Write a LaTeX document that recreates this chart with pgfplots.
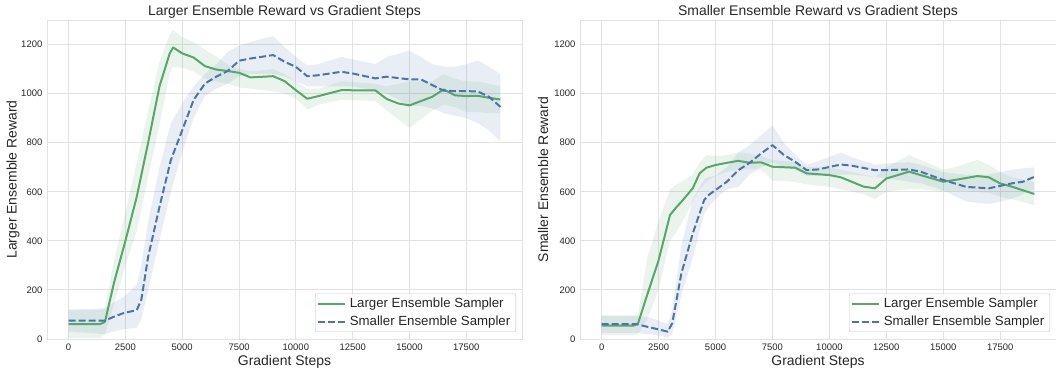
\documentclass[border=0pt]{standalone}
\usepackage{fontspec}
\setmainfont{Liberation Sans}
\usepackage{pgfplots}
\pgfplotsset{compat=1.18}
\usepackage{pgfplotstable}
\usepgfplotslibrary{fillbetween}
\definecolor{sgreen}{RGB}{85,168,104}
\definecolor{sblue}{RGB}{76,114,176}
\definecolor{txt}{RGB}{38,38,38}
\definecolor{gridc}{RGB}{226,226,226}

% Left panel, Larger Ensemble Sampler
\pgfplotstableread{
x y lo hi
0 61 5 118
1400 61 5 118
1600 70 20 125
2000 230 140 320
2500 400 300 520
3000 580 440 720
3500 800 660 930
4000 1030 870 1130
4450 1164 1080 1240
4600 1188 1110 1260
5000 1164 1105 1230
5500 1147 1090 1210
6000 1112 1060 1180
6500 1098 1050 1150
7000 1092 1040 1120
7500 1085 1025 1100
8000 1066 1020 1090
9000 1071 1010 1100
9500 1051 1000 1080
10000 1014 980 1050
10500 979 935 1020
11000 990 955 1020
12000 1014 975 1050
13500 1013 970 1040
14000 978 930 1030
14500 960 895 1040
15000 952 860 1050
16000 987 930 1050
16500 1017 955 1080
17000 993 945 1060
17500 990 925 1050
18000 991 925 1050
18500 983 920 1040
19000 976 920 1030
}\LG
% Left panel, Smaller Ensemble Sampler
\pgfplotstableread{
x y lo hi
0 75 30 120
1600 75 20 125
2000 91 30 150
2400 105 40 170
3000 118 45 220
3200 160 80 300
3500 335 200 480
4000 539 400 700
4500 729 600 880
5000 851 760 960
5500 974 900 1030
6000 1041 990 1080
6500 1069 1020 1120
7000 1092 1040 1170
7500 1134 1070 1195
8000 1143 1080 1210
9000 1157 1080 1235
9500 1130 1070 1190
10000 1109 1050 1150
10500 1071 1030 1115
11000 1075 1030 1120
12000 1089 1030 1150
12500 1082 1030 1140
13500 1062 1010 1120
14000 1069 1000 1150
15000 1058 950 1175
15500 1058 950 1150
16000 1035 940 1120
16500 1012 920 1110
17000 1010 910 1110
17500 1010 900 1120
18000 1009 880 1135
18500 987 850 1110
19000 946 805 1080
}\LB
% Right panel, Larger Ensemble Sampler
\pgfplotstableread{
x y lo hi
0 54 15 95
1400 54 15 95
1600 64 20 100
2000 180 80 330
2500 320 200 480
3000 505 400 610
3300 539 440 630
3500 559 470 640
4000 614 560 670
4300 675 610 720
4600 698 640 750
5000 709 665 745
5500 718 680 750
6000 726 690 760
6500 718 690 755
7000 720 690 745
7500 702 645 730
8500 698 640 720
9000 675 630 700
10000 668 620 700
10500 659 610 690
11500 621 590 670
12000 614 570 660
12500 654 600 700
13500 682 610 750
14000 668 610 730
15000 641 600 690
15500 648 605 700
16500 664 600 730
17000 659 595 710
17500 634 580 680
18000 621 570 660
19000 591 545 640
}\RG
% Right panel, Smaller Ensemble Sampler
\pgfplotstableread{
x y lo hi
0 61 25 95
1500 61 25 95
2000 50 20 90
2500 39 15 75
2900 30 5 60
3100 64 20 120
3500 267 180 380
4000 430 330 570
4500 566 510 650
4700 587 540 660
5000 607 570 665
5500 641 610 700
6000 688 620 760
6500 718 670 790
7000 756 700 830
7500 790 720 870
8000 750 700 800
8500 722 690 750
9000 688 665 710
9500 691 665 725
10500 711 670 760
11000 706 670 740
12000 688 660 710
12500 688 655 715
13500 691 640 720
14000 682 635 710
15000 648 605 680
16000 620 560 670
17000 614 550 670
18000 634 570 690
18500 641 590 695
19000 661 610 700
}\RB

\pgfplotsset{
  myaxis/.style={
    scale only axis, height=319bp,
    anchor=south west,
    xmin=-950, xmax=19950, ymin=0, ymax=1300,
    xtick={0,2500,...,17500}, ytick={0,200,...,1200},
    grid=major,
    major grid style={draw=gridc, line width=0.9bp},
    axis line style={draw=gridc, line width=0.9bp},
    major tick length=0pt,
    scaled ticks=false,
    /pgf/number format/assume math mode=true,
    /pgf/number format/1000 sep={},
    tick label style={font=\fontsize{9.5}{11}\selectfont, text=txt},
    xticklabel style={anchor=north, inner sep=0pt, yshift=-4.5bp},
    yticklabel style={anchor=east, inner sep=0pt, xshift=-4.5bp},
    label style={font=\fontsize{14}{16}\selectfont, text=txt},
    xlabel style={at={(axis description cs:0.5,0)}, anchor=base, yshift=-26bp},
    title style={at={(axis description cs:0.5,1)}, anchor=south, inner sep=0pt, yshift=-5bp, font=\fontsize{14}{16}\selectfont, text=txt},
    legend style={at={(axis description cs:1,0)}, anchor=south east, xshift=-6bp, yshift=7bp,
      draw=gridc!70!gray, rounded corners=2bp, fill=white, fill opacity=0.85, text opacity=1,
      font=\fontsize{13.3}{15}\selectfont, text=txt, inner xsep=1.5bp, inner ysep=2bp,
      nodes={inner xsep=4bp, inner ysep=2.6bp}, row sep=1.5bp},
    legend cell align=left,
    legend image code/.code={\draw[##1] (0bp,0bp) -- (27bp,0bp);},
  }
}

\begin{document}
\begin{tikzpicture}
\begin{axis}[myaxis, at={(47bp,31bp)}, width=475bp,
  title={Larger Ensemble Reward vs Gradient Steps},
  xlabel={Gradient Steps}, ylabel={Larger Ensemble Reward},
  ylabel style={at={(axis description cs:-0.0638,0.5)}, anchor=base}]
  \addplot[draw=none, name path=gU, forget plot] table[x=x,y=hi]{\LG};
  \addplot[draw=none, name path=gL, forget plot] table[x=x,y=lo]{\LG};
  \addplot[fill=sgreen, fill opacity=0.12, draw=none, forget plot] fill between[of=gU and gL];
  \addplot[draw=none, name path=bU, forget plot] table[x=x,y=hi]{\LB};
  \addplot[draw=none, name path=bL, forget plot] table[x=x,y=lo]{\LB};
  \addplot[fill=sblue, fill opacity=0.12, draw=none, forget plot] fill between[of=bU and bL];
  \addplot[sgreen, line width=2bp, line join=round] table[x=x,y=y]{\LG};
  \addlegendentry{Larger Ensemble Sampler}
  \addplot[sblue, line width=2bp, line join=round, dash pattern=on 7bp off 3bp] table[x=x,y=y]{\LB};
  \addlegendentry{Smaller Ensemble Sampler}
\end{axis}
\begin{axis}[myaxis, at={(580bp,31bp)}, width=476bp,
  title={Smaller Ensemble Reward vs Gradient Steps},
  xlabel={Gradient Steps}, ylabel={Smaller Ensemble Reward},
  ylabel style={at={(axis description cs:-0.0672,0.5)}, anchor=base}]
  \addplot[draw=none, name path=gU, forget plot] table[x=x,y=hi]{\RG};
  \addplot[draw=none, name path=gL, forget plot] table[x=x,y=lo]{\RG};
  \addplot[fill=sgreen, fill opacity=0.12, draw=none, forget plot] fill between[of=gU and gL];
  \addplot[draw=none, name path=bU, forget plot] table[x=x,y=hi]{\RB};
  \addplot[draw=none, name path=bL, forget plot] table[x=x,y=lo]{\RB};
  \addplot[fill=sblue, fill opacity=0.12, draw=none, forget plot] fill between[of=bU and bL];
  \addplot[sgreen, line width=2bp, line join=round] table[x=x,y=y]{\RG};
  \addlegendentry{Larger Ensemble Sampler}
  \addplot[sblue, line width=2bp, line join=round, dash pattern=on 7bp off 3bp] table[x=x,y=y]{\RB};
  \addlegendentry{Smaller Ensemble Sampler}
\end{axis}
\pgfresetboundingbox
\useasboundingbox (0,0) rectangle (1056bp,370bp);
\end{tikzpicture}
\end{document}
